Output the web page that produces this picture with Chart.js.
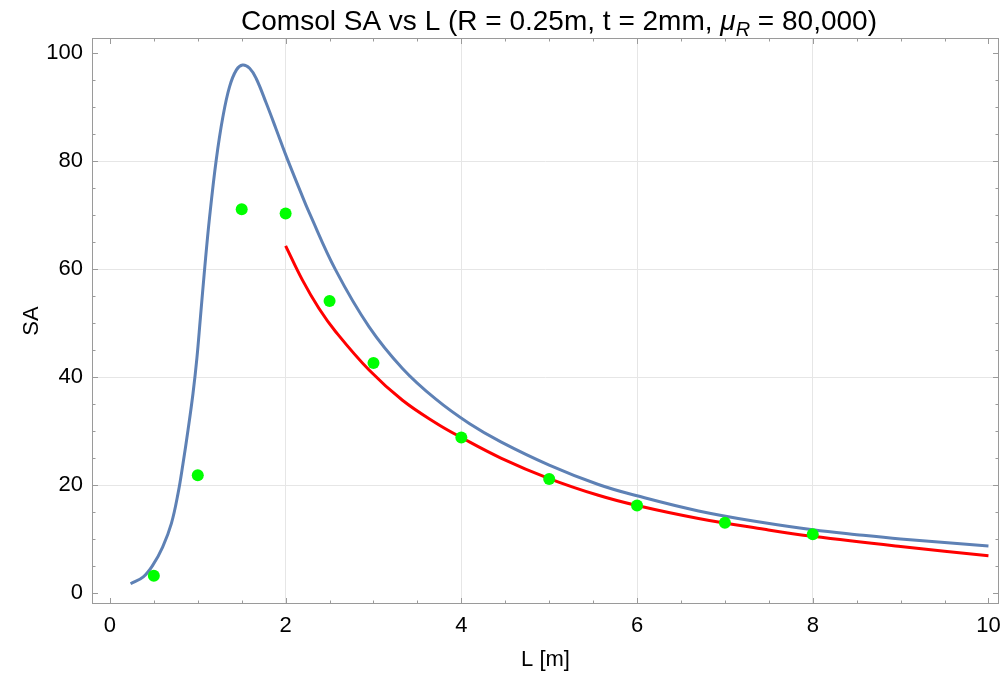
<!DOCTYPE html>
<html>
<head>
<meta charset="utf-8">
<script src="https://cdn.jsdelivr.net/npm/chart.js@4.4.1/dist/chart.umd.min.js"></script>
<style>
  html, body { margin:0; padding:0; background:#fff; }
  #wrap { width:1005px; height:677px; position:relative; }
</style>
</head>
<body>
<div id="wrap"><canvas id="sa"></canvas></div>
<script>
/* ── data ── */
// analytic curve (blue)
const blueL  = [0.235, 0.38, 0.49, 0.6, 0.7, 0.776, 0.832, 0.889, 0.946, 0.99, 1.03, 1.08, 1.135, 1.21, 1.286, 1.362, 1.44, 1.51, 1.59, 1.665, 1.78, 1.89, 2.0, 2.17, 2.27, 2.57, 2.95, 3.33, 3.71, 4.09, 4.45, 5.0, 5.56, 6.0, 6.7, 7.45, 8.0, 8.5, 9.0, 10.0];
const blueSA = [1.7, 3.0, 5.2, 8.5, 12.9, 18.5, 24.0, 30.2, 37.0, 43.5, 51.0, 60.4, 69.7, 80.2, 88.2, 93.8, 96.9, 97.8, 97.2, 95.3, 90.7, 86.0, 81.2, 74.3, 70.4, 59.8, 49.3, 41.6, 35.9, 31.4, 28.0, 23.7, 20.1, 18.0, 15.2, 13.0, 11.7, 10.8, 10.0, 8.7];

// long-L fit (red)
const redL  = [2.0, 2.19, 2.38, 2.57, 2.95, 3.33, 3.71, 4.0, 4.45, 5.0, 5.56, 6.0, 6.7, 7.45, 8.0, 9.0, 10.0];
const redSA = [64.3, 58.0, 52.7, 48.4, 41.3, 35.7, 31.5, 28.8, 25.0, 21.2, 18.1, 16.2, 13.8, 11.8, 10.5, 8.6, 6.9];

// Comsol results (green)
const comsolL  = [0.5, 1, 1.5, 2, 2.5, 3, 4, 5, 6, 7, 8];
const comsolSA = [3.2, 21.8, 71.1, 70.3, 54.1, 42.6, 28.8, 21.1, 16.2, 13.0, 10.9];

// axis ticks
const xTicks = [0, 2, 4, 6, 8, 10];
const yTicks = [0, 20, 40, 60, 80, 100];
const xMinor = 0.5;
const yMinor = 5;

const FONT = "'Liberation Sans', Arial, sans-serif";
const FRAME = '#9a9a9a';
const GRID = '#e6e6e6';

const pts = (xs, ys) => xs.map((x, i) => ({ x, y: ys[i] }));

/* ── frame with inward ticks on all four sides ── */
const frameTicks = {
  id: 'frameTicks',
  afterDatasetsDraw(chart) {
    const { ctx, chartArea: a, scales: { x, y } } = chart;
    ctx.save();
    ctx.strokeStyle = FRAME;
    ctx.lineWidth = 1;
    ctx.strokeRect(a.left + 0.5, a.top + 0.5, a.right - a.left - 1, a.bottom - a.top - 1);
    ctx.beginPath();
    for (let v = 0; v <= 10.001; v += xMinor) {
      const px = Math.round(x.getPixelForValue(v)) + 0.5;
      const len = xTicks.includes(v) ? 6 : 3.5;
      ctx.moveTo(px, a.bottom); ctx.lineTo(px, a.bottom - len);
      ctx.moveTo(px, a.top);    ctx.lineTo(px, a.top + len);
    }
    for (let v = 0; v <= 100.001; v += yMinor) {
      const py = Math.round(y.getPixelForValue(v)) + 0.5;
      const len = yTicks.includes(v) ? 6 : 3.5;
      ctx.moveTo(a.left, py);  ctx.lineTo(a.left + len, py);
      ctx.moveTo(a.right, py); ctx.lineTo(a.right - len, py);
    }
    ctx.stroke();
    ctx.restore();
  }
};

/* ── title with italic subscript mu_R ── */
const titleSub = {
  id: 'titleSub',
  afterDraw(chart) {
    const { ctx } = chart;
    const parts = [
      { t: 'Comsol SA vs L (R = 0.25m, t = 2mm, ', f: `28px ${FONT}`, dy: 0 },
      { t: 'μ', f: `italic 28px ${FONT}`, dy: 0 },
      { t: 'R', f: `italic 20px ${FONT}`, dy: 6 },
      { t: ' = 80,000)', f: `28px ${FONT}`, dy: 0 }
    ];
    ctx.save();
    let w = 0;
    parts.forEach(p => { ctx.font = p.f; p.w = ctx.measureText(p.t).width; w += p.w; });
    let cx = 559 - w / 2;
    ctx.fillStyle = '#000';
    ctx.textBaseline = 'alphabetic';
    parts.forEach(p => {
      ctx.font = p.f;
      ctx.fillText(p.t, cx, 30 + p.dy);
      cx += p.w;
    });
    ctx.restore();
  }
};

Chart.defaults.font.family = FONT;

new Chart(document.getElementById('sa'), {
  type: 'scatter',
  data: {
    datasets: [
      {
        label: 'Comsol',
        data: pts(comsolL, comsolSA),
        pointRadius: 6,
        pointBackgroundColor: '#00ff00',
        pointBorderWidth: 0,
        order: 0
      },
      {
        label: 'fit',
        data: pts(redL, redSA),
        showLine: true,
        borderColor: '#ff0000',
        borderWidth: 3,
        pointRadius: 0,
        tension: 0.4,
        order: 1
      },
      {
        label: 'SA',
        data: pts(blueL, blueSA),
        showLine: true,
        borderColor: '#5e81b5',
        borderWidth: 3,
        pointRadius: 0,
        tension: 0.4,
        order: 2
      }
    ]
  },
  options: {
    responsive: true,
    maintainAspectRatio: false,
    animation: false,
    layout: { padding: { top: 38, right: 2, left: 0, bottom: 0 } },
    plugins: {
      legend: { display: false },
      tooltip: { enabled: false },
      title: { display: false }
    },
    scales: {
      x: {
        type: 'linear',
        min: -0.204,
        max: 10.12,
        afterBuildTicks: s => { s.ticks = xTicks.map(v => ({ value: v })); },
        afterFit: s => { s.height = 73; s.paddingLeft = 0; s.paddingRight = 0; },
        border: { display: false },
        grid: {
          drawTicks: false,
          color: c => (c.tick && c.tick.value > 0 && c.tick.value < 10) ? GRID : 'rgba(0,0,0,0)'
        },
        ticks: { color: '#000', font: { size: 22 }, padding: 9, maxRotation: 0, autoSkip: false },
        title: { display: true, text: 'L [m]', color: '#000', font: { size: 22 }, padding: { top: 0, bottom: 4 } }
      },
      y: {
        type: 'linear',
        min: -2.04,
        max: 102.8,
        afterBuildTicks: s => { s.ticks = yTicks.map(v => ({ value: v })); },
        afterFit: s => { s.width = 92; s.paddingTop = 0; s.paddingBottom = 0; },
        border: { display: false },
        grid: {
          drawTicks: false,
          color: c => (c.tick && c.tick.value > 0 && c.tick.value < 100) ? GRID : 'rgba(0,0,0,0)'
        },
        ticks: { color: '#000', font: { size: 22 }, padding: 9, autoSkip: false },
        title: { display: true, text: 'SA', color: '#000', font: { size: 22 }, padding: { top: 19, bottom: 0 } }
      }
    }
  },
  plugins: [frameTicks, titleSub]
});
</script>
</body>
</html>
